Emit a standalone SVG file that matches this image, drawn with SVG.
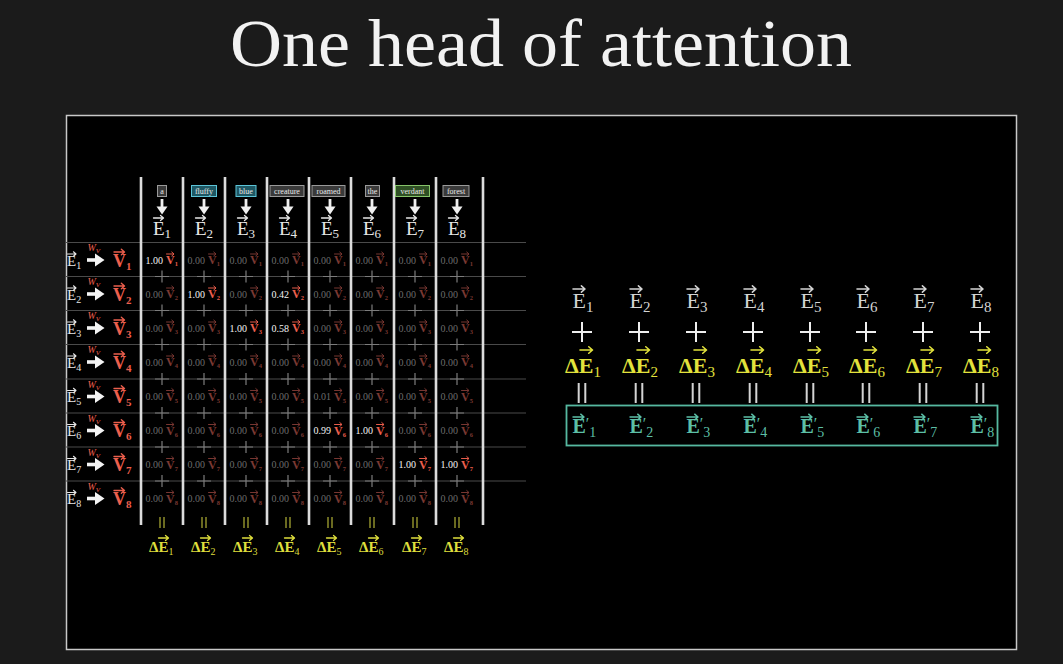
<svg xmlns="http://www.w3.org/2000/svg" xmlns:xlink="http://www.w3.org/1999/xlink" width="1063" height="664" viewBox="0 0 1063 664">
<style>
text{font-family:"Liberation Serif","DejaVu Serif",serif}
.num{font-size:10px;fill:#6c6c6c}
.nh{fill:#f4f4f4}
.vt{font-size:12px;font-weight:bold}
.vs{font-size:6.5px}
.dv{fill:#7a3832;color:#7a3832}
.bv{fill:#ec5f4d;color:#ec5f4d}
.pl{stroke:#7c7c7c;stroke-width:1.2;fill:none}
.he{font-size:19px;fill:#e6e6e6;color:#e6e6e6}
.hs{font-size:13px}
.tok{font-size:8px;fill:#e8e8e8;text-anchor:middle}
.tg{fill:#3a3a3a;stroke:#9a9a9a;stroke-width:1}
.tt{fill:#1e5763;stroke:#5cc4d8;stroke-width:1}
.tv{fill:#2f4f24;stroke:#86c46a;stroke-width:1}
.le{font-size:15px;fill:#e6e6e6;color:#e6e6e6}
.ls{font-size:10px}
.lv{font-size:18px;font-weight:bold;fill:#ec5f4d;color:#ec5f4d}
.lvs{font-size:11px}
.wv{font-size:10px;font-style:italic;fill:#ec5f4d}
.hl{stroke:#4a4a4a;stroke-width:1}
.vl{stroke:#dcdcdc;stroke-width:2.6}
.eqy{stroke:#a3a332;stroke-width:1.3;fill:none}
.dy{font-size:15px;font-weight:bold;fill:#dede3c;color:#dede3c}
.dys{font-size:10px;font-weight:normal}
.re{font-size:22px;fill:#d4d4d4;color:#d4d4d4}
.rs{font-size:15px}
.rp{stroke:#eeeeee;stroke-width:2;fill:none}
.rd{font-size:22px;font-weight:bold;fill:#e2e23c;color:#e2e23c}
.rds{font-size:15px;font-weight:normal}
.req{stroke:#d4d4d4;stroke-width:2;fill:none}
.rt{font-size:20px;font-weight:bold;fill:#5cbfa6;color:#5cbfa6}
.rts{font-size:14px;font-weight:normal}
.pr{font-size:16px;font-weight:normal}
</style>
<defs>
<path id="ar" d="M0 0H9.5M7 -2.6L10 0L7 2.6" fill="none" stroke="currentColor" stroke-width="1.3" stroke-linecap="round" stroke-linejoin="round"/>
<g id="down"><path d="M0 199V208" stroke="#f0f0f0" stroke-width="2.8"/><path d="M-5.5 206.5H5.5L0 214.5Z" fill="#f0f0f0"/></g>
<g id="rarr"><path d="M87 0H97" stroke="#f4f4f4" stroke-width="3.6"/><path d="M95 -6.5L104.5 0L95 6.5Z" fill="#f4f4f4"/></g>
<path id="plus" class="pl" d="M-7 0H7M0 -6V6"/>
<path id="rplus" class="rp" d="M-10 332H10M0 322V342"/>
<path id="eqb" class="eqy" d="M-2 517V528M2 517V528"/>
<path id="eqr" class="req" d="M-3.3 383V403M3.3 383V403"/>
<g id="v1"><use href="#ar" transform="translate(0.5,-10) scale(0.75)"/><text class="vt">V<tspan class="vs" dy="2">1</tspan></text></g>
<g id="v2"><use href="#ar" transform="translate(0.5,-10) scale(0.75)"/><text class="vt">V<tspan class="vs" dy="2">2</tspan></text></g>
<g id="v3"><use href="#ar" transform="translate(0.5,-10) scale(0.75)"/><text class="vt">V<tspan class="vs" dy="2">3</tspan></text></g>
<g id="v4"><use href="#ar" transform="translate(0.5,-10) scale(0.75)"/><text class="vt">V<tspan class="vs" dy="2">4</tspan></text></g>
<g id="v5"><use href="#ar" transform="translate(0.5,-10) scale(0.75)"/><text class="vt">V<tspan class="vs" dy="2">5</tspan></text></g>
<g id="v6"><use href="#ar" transform="translate(0.5,-10) scale(0.75)"/><text class="vt">V<tspan class="vs" dy="2">6</tspan></text></g>
<g id="v7"><use href="#ar" transform="translate(0.5,-10) scale(0.75)"/><text class="vt">V<tspan class="vs" dy="2">7</tspan></text></g>
<g id="v8"><use href="#ar" transform="translate(0.5,-10) scale(0.75)"/><text class="vt">V<tspan class="vs" dy="2">8</tspan></text></g>
</defs>
<rect width="1063" height="664" fill="#1b1b1b"/>
<text x="541" y="66" font-size="68" fill="#f2f2f2" text-anchor="middle" textLength="622" lengthAdjust="spacingAndGlyphs">One head of attention</text>
<rect x="66.5" y="115.5" width="950" height="534" fill="#000" stroke="#c8c8c8" stroke-width="1.5"/>

<g id="grid">
<path class="hl" d="M66 242.5H526M66 276.5H526M66 310.5H526M66 344.5H526M66 379H526M66 413H526M66 447H526M66 481H526"/>
<path class="vl" d="M141 177V525M183 177V525M225 177V525M267 177V525M309 177V525M351 177V525M394 177V525M436 177V525M483 177V525"/>
</g>

<g id="tokens">
<g id="tok1"><rect class="tg" x="157.5" y="185.5" width="9" height="11"/><text class="tok" x="162" y="194">a</text>
<use href="#ar" class="he" transform="translate(153.5,218)"/><text class="he" x="153" y="234.5">E<tspan class="hs" dy="3">1</tspan></text></g>
<g id="tok2"><rect class="tt" x="191.5" y="185.5" width="25" height="11"/><text class="tok" x="204" y="194">fluffy</text>
<use href="#ar" class="he" transform="translate(195.5,218)"/><text class="he" x="195" y="234.5">E<tspan class="hs" dy="3">2</tspan></text></g>
<g id="tok3"><rect class="tt" x="236" y="185.5" width="20" height="11"/><text class="tok" x="246" y="194">blue</text>
<use href="#ar" class="he" transform="translate(237.5,218)"/><text class="he" x="237" y="234.5">E<tspan class="hs" dy="3">3</tspan></text></g>
<g id="tok4"><rect class="tg" x="270" y="185.5" width="34" height="11"/><text class="tok" x="287" y="194">creature</text>
<use href="#ar" class="he" transform="translate(279.5,218)"/><text class="he" x="279" y="234.5">E<tspan class="hs" dy="3">4</tspan></text></g>
<g id="tok5"><rect class="tg" x="312" y="185.5" width="33" height="11"/><text class="tok" x="328.5" y="194">roamed</text>
<use href="#ar" class="he" transform="translate(321.5,218)"/><text class="he" x="321" y="234.5">E<tspan class="hs" dy="3">5</tspan></text></g>
<g id="tok6"><rect class="tg" x="365.5" y="185.5" width="14" height="11"/><text class="tok" x="372.5" y="194">the</text>
<use href="#ar" class="he" transform="translate(363.5,218)"/><text class="he" x="363" y="234.5">E<tspan class="hs" dy="3">6</tspan></text></g>
<g id="tok7"><rect class="tv" x="395.5" y="185.5" width="34" height="11"/><text class="tok" x="412.5" y="194">verdant</text>
<use href="#ar" class="he" transform="translate(406.5,218)"/><text class="he" x="406" y="234.5">E<tspan class="hs" dy="3">7</tspan></text></g>
<g id="tok8"><rect class="tg" x="443" y="185.5" width="26" height="11"/><text class="tok" x="456" y="194">forest</text>
<use href="#ar" class="he" transform="translate(448.5,218)"/><text class="he" x="448" y="234.5">E<tspan class="hs" dy="3">8</tspan></text></g>
</g>

<g id="rows">
<g id="row1"><use href="#ar" class="le" transform="translate(67.5,254) scale(0.85)"/><text class="le" x="67" y="265.5">E<tspan class="ls" dy="3">1</tspan></text><text class="wv" x="87.5" y="251">W<tspan font-size="7" dy="2">V</tspan></text><use href="#ar" class="lv" transform="translate(114,252) scale(1.05)"/><text class="lv" x="113" y="266.5">V<tspan class="lvs" dy="3">1</tspan></text></g>
<g id="row2"><use href="#ar" class="le" transform="translate(67.5,288) scale(0.85)"/><text class="le" x="67" y="299.5">E<tspan class="ls" dy="3">2</tspan></text><text class="wv" x="87.5" y="285">W<tspan font-size="7" dy="2">V</tspan></text><use href="#ar" class="lv" transform="translate(114,286) scale(1.05)"/><text class="lv" x="113" y="300.5">V<tspan class="lvs" dy="3">2</tspan></text></g>
<g id="row3"><use href="#ar" class="le" transform="translate(67.5,322) scale(0.85)"/><text class="le" x="67" y="333.5">E<tspan class="ls" dy="3">3</tspan></text><text class="wv" x="87.5" y="319">W<tspan font-size="7" dy="2">V</tspan></text><use href="#ar" class="lv" transform="translate(114,320) scale(1.05)"/><text class="lv" x="113" y="334.5">V<tspan class="lvs" dy="3">3</tspan></text></g>
<g id="row4"><use href="#ar" class="le" transform="translate(67.5,356) scale(0.85)"/><text class="le" x="67" y="367.5">E<tspan class="ls" dy="3">4</tspan></text><text class="wv" x="87.5" y="353">W<tspan font-size="7" dy="2">V</tspan></text><use href="#ar" class="lv" transform="translate(114,354) scale(1.05)"/><text class="lv" x="113" y="368.5">V<tspan class="lvs" dy="3">4</tspan></text></g>
<g id="row5"><use href="#ar" class="le" transform="translate(67.5,390.5) scale(0.85)"/><text class="le" x="67" y="402">E<tspan class="ls" dy="3">5</tspan></text><text class="wv" x="87.5" y="387.5">W<tspan font-size="7" dy="2">V</tspan></text><use href="#ar" class="lv" transform="translate(114,388.5) scale(1.05)"/><text class="lv" x="113" y="403">V<tspan class="lvs" dy="3">5</tspan></text></g>
<g id="row6"><use href="#ar" class="le" transform="translate(67.5,424.5) scale(0.85)"/><text class="le" x="67" y="436">E<tspan class="ls" dy="3">6</tspan></text><text class="wv" x="87.5" y="421.5">W<tspan font-size="7" dy="2">V</tspan></text><use href="#ar" class="lv" transform="translate(114,422.5) scale(1.05)"/><text class="lv" x="113" y="437">V<tspan class="lvs" dy="3">6</tspan></text></g>
<g id="row7"><use href="#ar" class="le" transform="translate(67.5,458.5) scale(0.85)"/><text class="le" x="67" y="470">E<tspan class="ls" dy="3">7</tspan></text><text class="wv" x="87.5" y="455.5">W<tspan font-size="7" dy="2">V</tspan></text><use href="#ar" class="lv" transform="translate(114,456.5) scale(1.05)"/><text class="lv" x="113" y="471">V<tspan class="lvs" dy="3">7</tspan></text></g>
<g id="row8"><use href="#ar" class="le" transform="translate(67.5,492.5) scale(0.85)"/><text class="le" x="67" y="504">E<tspan class="ls" dy="3">8</tspan></text><text class="wv" x="87.5" y="489.5">W<tspan font-size="7" dy="2">V</tspan></text><use href="#ar" class="lv" transform="translate(114,490.5) scale(1.05)"/><text class="lv" x="113" y="505">V<tspan class="lvs" dy="3">8</tspan></text></g>
</g>

<g id="connectors">
<use href="#down" x="162"/><use href="#down" x="204"/><use href="#down" x="246"/><use href="#down" x="288"/><use href="#down" x="330"/><use href="#down" x="372"/><use href="#down" x="415"/><use href="#down" x="457"/>
<use href="#rarr" y="260"/><use href="#rarr" y="294"/><use href="#rarr" y="328"/><use href="#rarr" y="362"/><use href="#rarr" y="396.5"/><use href="#rarr" y="430.5"/><use href="#rarr" y="464.5"/><use href="#rarr" y="498.5"/>
</g>

<g id="cells">
<text class="num nh" x="145.5" y="263.5">1.00</text><use href="#v1" class="bv" x="166" y="264"/>
<text class="num" x="187.5" y="263.5">0.00</text><use href="#v1" class="dv" x="208" y="264"/>
<text class="num" x="229.5" y="263.5">0.00</text><use href="#v1" class="dv" x="250" y="264"/>
<text class="num" x="271.5" y="263.5">0.00</text><use href="#v1" class="dv" x="292" y="264"/>
<text class="num" x="313.5" y="263.5">0.00</text><use href="#v1" class="dv" x="334" y="264"/>
<text class="num" x="355.5" y="263.5">0.00</text><use href="#v1" class="dv" x="376" y="264"/>
<text class="num" x="398.5" y="263.5">0.00</text><use href="#v1" class="dv" x="419" y="264"/>
<text class="num" x="440.5" y="263.5">0.00</text><use href="#v1" class="dv" x="461" y="264"/>

<text class="num" x="145.5" y="297.5">0.00</text><use href="#v2" class="dv" x="166" y="298"/>
<text class="num nh" x="187.5" y="297.5">1.00</text><use href="#v2" class="bv" x="208" y="298"/>
<text class="num" x="229.5" y="297.5">0.00</text><use href="#v2" class="dv" x="250" y="298"/>
<text class="num nh" x="271.5" y="297.5">0.42</text><use href="#v2" class="bv" x="292" y="298"/>
<text class="num" x="313.5" y="297.5">0.00</text><use href="#v2" class="dv" x="334" y="298"/>
<text class="num" x="355.5" y="297.5">0.00</text><use href="#v2" class="dv" x="376" y="298"/>
<text class="num" x="398.5" y="297.5">0.00</text><use href="#v2" class="dv" x="419" y="298"/>
<text class="num" x="440.5" y="297.5">0.00</text><use href="#v2" class="dv" x="461" y="298"/>

<text class="num" x="145.5" y="331.5">0.00</text><use href="#v3" class="dv" x="166" y="332"/>
<text class="num" x="187.5" y="331.5">0.00</text><use href="#v3" class="dv" x="208" y="332"/>
<text class="num nh" x="229.5" y="331.5">1.00</text><use href="#v3" class="bv" x="250" y="332"/>
<text class="num nh" x="271.5" y="331.5">0.58</text><use href="#v3" class="bv" x="292" y="332"/>
<text class="num" x="313.5" y="331.5">0.00</text><use href="#v3" class="dv" x="334" y="332"/>
<text class="num" x="355.5" y="331.5">0.00</text><use href="#v3" class="dv" x="376" y="332"/>
<text class="num" x="398.5" y="331.5">0.00</text><use href="#v3" class="dv" x="419" y="332"/>
<text class="num" x="440.5" y="331.5">0.00</text><use href="#v3" class="dv" x="461" y="332"/>

<text class="num" x="145.5" y="365.5">0.00</text><use href="#v4" class="dv" x="166" y="366"/>
<text class="num" x="187.5" y="365.5">0.00</text><use href="#v4" class="dv" x="208" y="366"/>
<text class="num" x="229.5" y="365.5">0.00</text><use href="#v4" class="dv" x="250" y="366"/>
<text class="num" x="271.5" y="365.5">0.00</text><use href="#v4" class="dv" x="292" y="366"/>
<text class="num" x="313.5" y="365.5">0.00</text><use href="#v4" class="dv" x="334" y="366"/>
<text class="num" x="355.5" y="365.5">0.00</text><use href="#v4" class="dv" x="376" y="366"/>
<text class="num" x="398.5" y="365.5">0.00</text><use href="#v4" class="dv" x="419" y="366"/>
<text class="num" x="440.5" y="365.5">0.00</text><use href="#v4" class="dv" x="461" y="366"/>

<text class="num" x="145.5" y="400">0.00</text><use href="#v5" class="dv" x="166" y="400.5"/>
<text class="num" x="187.5" y="400">0.00</text><use href="#v5" class="dv" x="208" y="400.5"/>
<text class="num" x="229.5" y="400">0.00</text><use href="#v5" class="dv" x="250" y="400.5"/>
<text class="num" x="271.5" y="400">0.00</text><use href="#v5" class="dv" x="292" y="400.5"/>
<text class="num" x="313.5" y="400">0.01</text><use href="#v5" class="dv" x="334" y="400.5"/>
<text class="num" x="355.5" y="400">0.00</text><use href="#v5" class="dv" x="376" y="400.5"/>
<text class="num" x="398.5" y="400">0.00</text><use href="#v5" class="dv" x="419" y="400.5"/>
<text class="num" x="440.5" y="400">0.00</text><use href="#v5" class="dv" x="461" y="400.5"/>

<text class="num" x="145.5" y="434">0.00</text><use href="#v6" class="dv" x="166" y="434.5"/>
<text class="num" x="187.5" y="434">0.00</text><use href="#v6" class="dv" x="208" y="434.5"/>
<text class="num" x="229.5" y="434">0.00</text><use href="#v6" class="dv" x="250" y="434.5"/>
<text class="num" x="271.5" y="434">0.00</text><use href="#v6" class="dv" x="292" y="434.5"/>
<text class="num nh" x="313.5" y="434">0.99</text><use href="#v6" class="bv" x="334" y="434.5"/>
<text class="num nh" x="355.5" y="434">1.00</text><use href="#v6" class="bv" x="376" y="434.5"/>
<text class="num" x="398.5" y="434">0.00</text><use href="#v6" class="dv" x="419" y="434.5"/>
<text class="num" x="440.5" y="434">0.00</text><use href="#v6" class="dv" x="461" y="434.5"/>

<text class="num" x="145.5" y="468">0.00</text><use href="#v7" class="dv" x="166" y="468.5"/>
<text class="num" x="187.5" y="468">0.00</text><use href="#v7" class="dv" x="208" y="468.5"/>
<text class="num" x="229.5" y="468">0.00</text><use href="#v7" class="dv" x="250" y="468.5"/>
<text class="num" x="271.5" y="468">0.00</text><use href="#v7" class="dv" x="292" y="468.5"/>
<text class="num" x="313.5" y="468">0.00</text><use href="#v7" class="dv" x="334" y="468.5"/>
<text class="num" x="355.5" y="468">0.00</text><use href="#v7" class="dv" x="376" y="468.5"/>
<text class="num nh" x="398.5" y="468">1.00</text><use href="#v7" class="bv" x="419" y="468.5"/>
<text class="num nh" x="440.5" y="468">1.00</text><use href="#v7" class="bv" x="461" y="468.5"/>

<text class="num" x="145.5" y="502">0.00</text><use href="#v8" class="dv" x="166" y="502.5"/>
<text class="num" x="187.5" y="502">0.00</text><use href="#v8" class="dv" x="208" y="502.5"/>
<text class="num" x="229.5" y="502">0.00</text><use href="#v8" class="dv" x="250" y="502.5"/>
<text class="num" x="271.5" y="502">0.00</text><use href="#v8" class="dv" x="292" y="502.5"/>
<text class="num" x="313.5" y="502">0.00</text><use href="#v8" class="dv" x="334" y="502.5"/>
<text class="num" x="355.5" y="502">0.00</text><use href="#v8" class="dv" x="376" y="502.5"/>
<text class="num" x="398.5" y="502">0.00</text><use href="#v8" class="dv" x="419" y="502.5"/>
<text class="num" x="440.5" y="502">0.00</text><use href="#v8" class="dv" x="461" y="502.5"/>
</g>

<g id="pluses">
<use href="#plus" x="162" y="276.5"/><use href="#plus" x="204" y="276.5"/><use href="#plus" x="246" y="276.5"/><use href="#plus" x="288" y="276.5"/><use href="#plus" x="330" y="276.5"/><use href="#plus" x="372" y="276.5"/><use href="#plus" x="415" y="276.5"/><use href="#plus" x="457" y="276.5"/>
<use href="#plus" x="162" y="310.5"/><use href="#plus" x="204" y="310.5"/><use href="#plus" x="246" y="310.5"/><use href="#plus" x="288" y="310.5"/><use href="#plus" x="330" y="310.5"/><use href="#plus" x="372" y="310.5"/><use href="#plus" x="415" y="310.5"/><use href="#plus" x="457" y="310.5"/>
<use href="#plus" x="162" y="344.5"/><use href="#plus" x="204" y="344.5"/><use href="#plus" x="246" y="344.5"/><use href="#plus" x="288" y="344.5"/><use href="#plus" x="330" y="344.5"/><use href="#plus" x="372" y="344.5"/><use href="#plus" x="415" y="344.5"/><use href="#plus" x="457" y="344.5"/>
<use href="#plus" x="162" y="379"/><use href="#plus" x="204" y="379"/><use href="#plus" x="246" y="379"/><use href="#plus" x="288" y="379"/><use href="#plus" x="330" y="379"/><use href="#plus" x="372" y="379"/><use href="#plus" x="415" y="379"/><use href="#plus" x="457" y="379"/>
<use href="#plus" x="162" y="413"/><use href="#plus" x="204" y="413"/><use href="#plus" x="246" y="413"/><use href="#plus" x="288" y="413"/><use href="#plus" x="330" y="413"/><use href="#plus" x="372" y="413"/><use href="#plus" x="415" y="413"/><use href="#plus" x="457" y="413"/>
<use href="#plus" x="162" y="447"/><use href="#plus" x="204" y="447"/><use href="#plus" x="246" y="447"/><use href="#plus" x="288" y="447"/><use href="#plus" x="330" y="447"/><use href="#plus" x="372" y="447"/><use href="#plus" x="415" y="447"/><use href="#plus" x="457" y="447"/>
<use href="#plus" x="162" y="481"/><use href="#plus" x="204" y="481"/><use href="#plus" x="246" y="481"/><use href="#plus" x="288" y="481"/><use href="#plus" x="330" y="481"/><use href="#plus" x="372" y="481"/><use href="#plus" x="415" y="481"/><use href="#plus" x="457" y="481"/>
</g>

<g id="deltas">
<g id="dE1"><use href="#eqb" x="162"/><use href="#ar" class="dy" transform="translate(158.5,538)"/><text class="dy" x="149" y="551.5">ΔE<tspan class="dys" dy="3">1</tspan></text></g>
<g id="dE2"><use href="#eqb" x="204"/><use href="#ar" class="dy" transform="translate(200.5,538)"/><text class="dy" x="191" y="551.5">ΔE<tspan class="dys" dy="3">2</tspan></text></g>
<g id="dE3"><use href="#eqb" x="246"/><use href="#ar" class="dy" transform="translate(242.5,538)"/><text class="dy" x="233" y="551.5">ΔE<tspan class="dys" dy="3">3</tspan></text></g>
<g id="dE4"><use href="#eqb" x="288"/><use href="#ar" class="dy" transform="translate(284.5,538)"/><text class="dy" x="275" y="551.5">ΔE<tspan class="dys" dy="3">4</tspan></text></g>
<g id="dE5"><use href="#eqb" x="330"/><use href="#ar" class="dy" transform="translate(326.5,538)"/><text class="dy" x="317" y="551.5">ΔE<tspan class="dys" dy="3">5</tspan></text></g>
<g id="dE6"><use href="#eqb" x="372"/><use href="#ar" class="dy" transform="translate(368.5,538)"/><text class="dy" x="359" y="551.5">ΔE<tspan class="dys" dy="3">6</tspan></text></g>
<g id="dE7"><use href="#eqb" x="415"/><use href="#ar" class="dy" transform="translate(411.5,538)"/><text class="dy" x="402" y="551.5">ΔE<tspan class="dys" dy="3">7</tspan></text></g>
<g id="dE8"><use href="#eqb" x="457"/><use href="#ar" class="dy" transform="translate(453.5,538)"/><text class="dy" x="444" y="551.5">ΔE<tspan class="dys" dy="3">8</tspan></text></g>
</g>

<rect id="result-box" x="566.5" y="405.5" width="431" height="40" fill="none" stroke="#56b8a0" stroke-width="1.8"/>
<g id="sums">
<g id="sum1"><use href="#ar" class="re" transform="translate(573,289) scale(1.2)"/><text class="re" x="572.5" y="308">E<tspan class="rs" dy="4">1</tspan></text><use href="#rplus" x="582"/><use href="#ar" class="rd" transform="translate(580,350) scale(1.25)"/><text class="rd" x="565" y="373">ΔE<tspan class="rds" dy="4">1</tspan></text><use href="#eqr" x="582"/><use href="#ar" class="rt" transform="translate(573,417) scale(1.1)"/><text class="rt" x="572.5" y="433">E<tspan class="pr" dy="-4">′</tspan><tspan class="rts" dy="8">1</tspan></text></g>
<g id="sum2"><use href="#ar" class="re" transform="translate(630,289) scale(1.2)"/><text class="re" x="629.5" y="308">E<tspan class="rs" dy="4">2</tspan></text><use href="#rplus" x="639"/><use href="#ar" class="rd" transform="translate(637,350) scale(1.25)"/><text class="rd" x="622" y="373">ΔE<tspan class="rds" dy="4">2</tspan></text><use href="#eqr" x="639"/><use href="#ar" class="rt" transform="translate(630,417) scale(1.1)"/><text class="rt" x="629.5" y="433">E<tspan class="pr" dy="-4">′</tspan><tspan class="rts" dy="8">2</tspan></text></g>
<g id="sum3"><use href="#ar" class="re" transform="translate(687,289) scale(1.2)"/><text class="re" x="686.5" y="308">E<tspan class="rs" dy="4">3</tspan></text><use href="#rplus" x="696"/><use href="#ar" class="rd" transform="translate(694,350) scale(1.25)"/><text class="rd" x="679" y="373">ΔE<tspan class="rds" dy="4">3</tspan></text><use href="#eqr" x="696"/><use href="#ar" class="rt" transform="translate(687,417) scale(1.1)"/><text class="rt" x="686.5" y="433">E<tspan class="pr" dy="-4">′</tspan><tspan class="rts" dy="8">3</tspan></text></g>
<g id="sum4"><use href="#ar" class="re" transform="translate(744,289) scale(1.2)"/><text class="re" x="743.5" y="308">E<tspan class="rs" dy="4">4</tspan></text><use href="#rplus" x="753"/><use href="#ar" class="rd" transform="translate(751,350) scale(1.25)"/><text class="rd" x="736" y="373">ΔE<tspan class="rds" dy="4">4</tspan></text><use href="#eqr" x="753"/><use href="#ar" class="rt" transform="translate(744,417) scale(1.1)"/><text class="rt" x="743.5" y="433">E<tspan class="pr" dy="-4">′</tspan><tspan class="rts" dy="8">4</tspan></text></g>
<g id="sum5"><use href="#ar" class="re" transform="translate(801,289) scale(1.2)"/><text class="re" x="800.5" y="308">E<tspan class="rs" dy="4">5</tspan></text><use href="#rplus" x="810"/><use href="#ar" class="rd" transform="translate(808,350) scale(1.25)"/><text class="rd" x="793" y="373">ΔE<tspan class="rds" dy="4">5</tspan></text><use href="#eqr" x="810"/><use href="#ar" class="rt" transform="translate(801,417) scale(1.1)"/><text class="rt" x="800.5" y="433">E<tspan class="pr" dy="-4">′</tspan><tspan class="rts" dy="8">5</tspan></text></g>
<g id="sum6"><use href="#ar" class="re" transform="translate(857,289) scale(1.2)"/><text class="re" x="856.5" y="308">E<tspan class="rs" dy="4">6</tspan></text><use href="#rplus" x="866"/><use href="#ar" class="rd" transform="translate(864,350) scale(1.25)"/><text class="rd" x="849" y="373">ΔE<tspan class="rds" dy="4">6</tspan></text><use href="#eqr" x="866"/><use href="#ar" class="rt" transform="translate(857,417) scale(1.1)"/><text class="rt" x="856.5" y="433">E<tspan class="pr" dy="-4">′</tspan><tspan class="rts" dy="8">6</tspan></text></g>
<g id="sum7"><use href="#ar" class="re" transform="translate(914,289) scale(1.2)"/><text class="re" x="913.5" y="308">E<tspan class="rs" dy="4">7</tspan></text><use href="#rplus" x="923"/><use href="#ar" class="rd" transform="translate(921,350) scale(1.25)"/><text class="rd" x="906" y="373">ΔE<tspan class="rds" dy="4">7</tspan></text><use href="#eqr" x="923"/><use href="#ar" class="rt" transform="translate(914,417) scale(1.1)"/><text class="rt" x="913.5" y="433">E<tspan class="pr" dy="-4">′</tspan><tspan class="rts" dy="8">7</tspan></text></g>
<g id="sum8"><use href="#ar" class="re" transform="translate(971,289) scale(1.2)"/><text class="re" x="970.5" y="308">E<tspan class="rs" dy="4">8</tspan></text><use href="#rplus" x="980"/><use href="#ar" class="rd" transform="translate(978,350) scale(1.25)"/><text class="rd" x="963" y="373">ΔE<tspan class="rds" dy="4">8</tspan></text><use href="#eqr" x="980"/><use href="#ar" class="rt" transform="translate(971,417) scale(1.1)"/><text class="rt" x="970.5" y="433">E<tspan class="pr" dy="-4">′</tspan><tspan class="rts" dy="8">8</tspan></text></g>
</g>
</svg>
